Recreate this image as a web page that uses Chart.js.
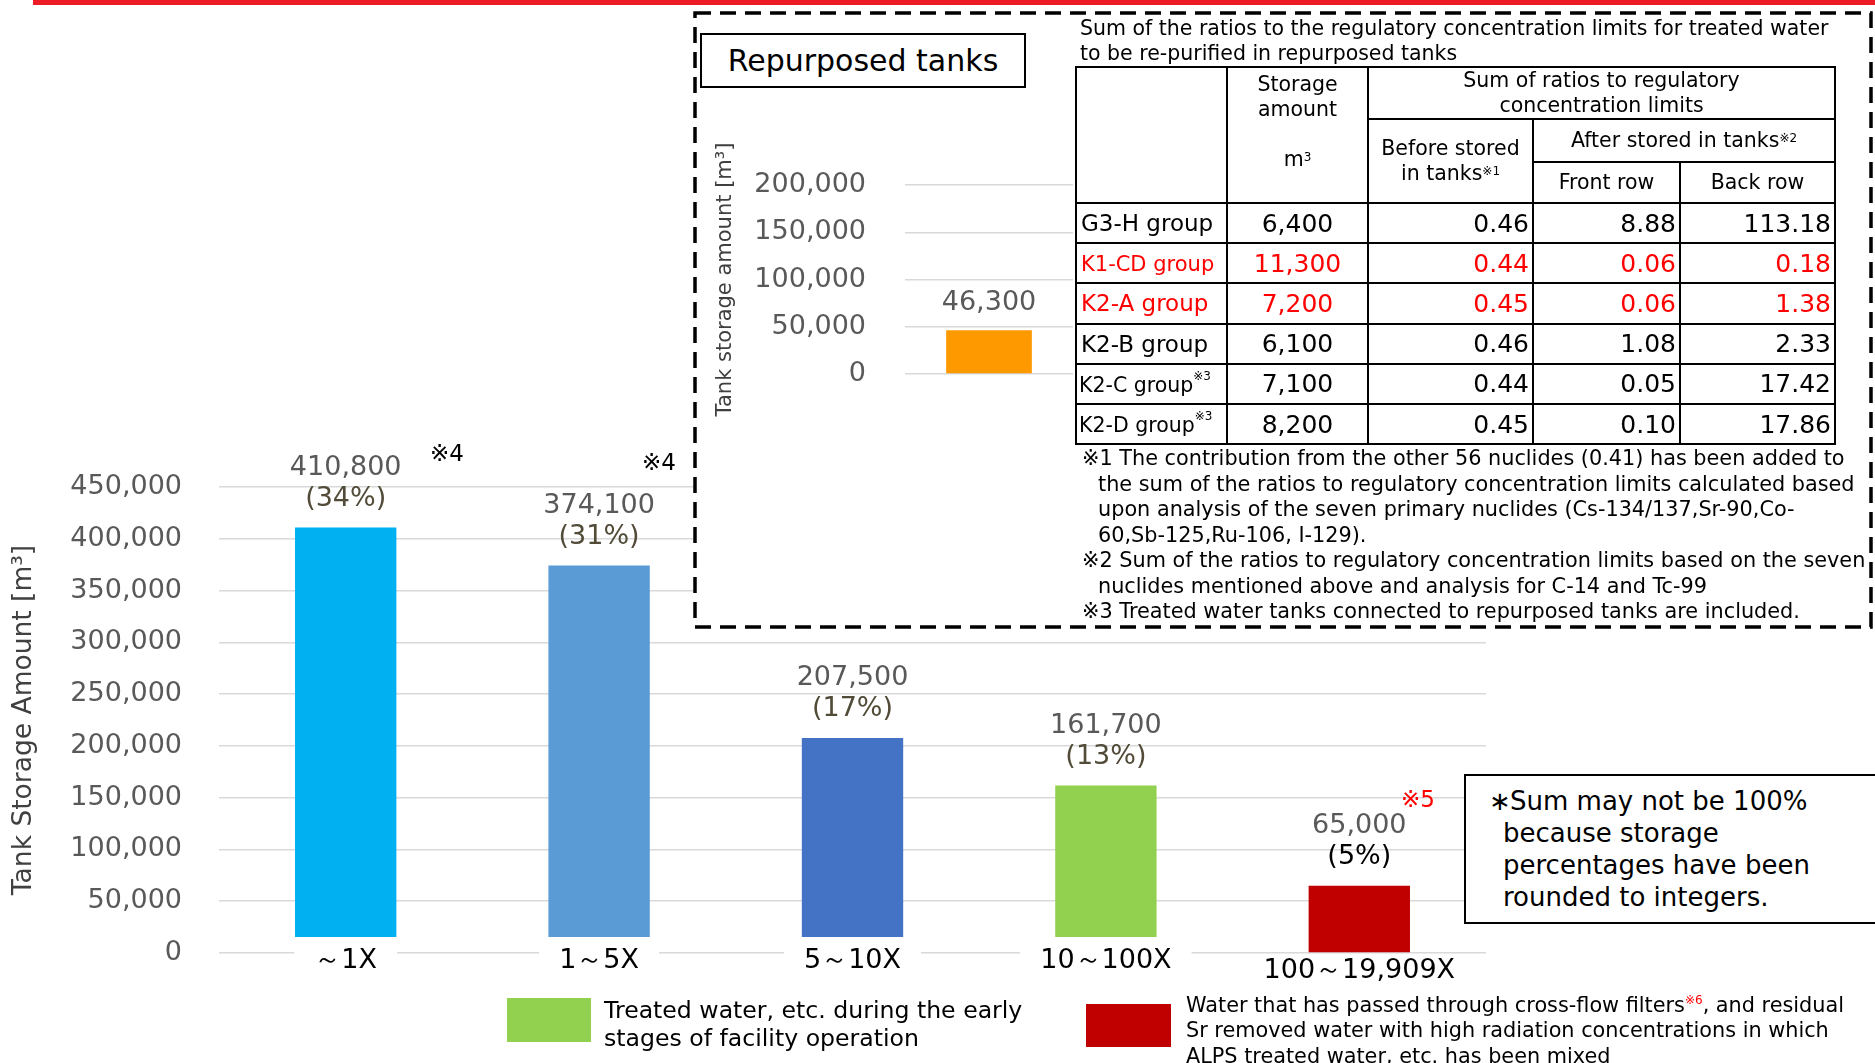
<!DOCTYPE html>
<html><head><meta charset="utf-8">
<script src="https://cdn.jsdelivr.net/npm/chart.js@4.4.1/dist/chart.umd.min.js"></script>
<style>
html,body{margin:0;padding:0;background:#fff;}
body{width:1875px;height:1063px;position:relative;overflow:hidden;font-family:"DejaVu Sans",sans-serif;color:#000;}
canvas{position:absolute;left:0;top:0;}
#main{z-index:1} #boxsvg{z-index:2;position:absolute;left:0;top:0;} #inset{z-index:3}
.t{position:absolute;z-index:4;white-space:nowrap;}
#tbl{position:absolute;left:1075px;top:66px;width:759px;z-index:4;border-collapse:collapse;table-layout:fixed;font-family:"DejaVu Sans",sans-serif;}
#tbl td{border:2.5px solid #000;padding:0;overflow:hidden;white-space:nowrap;}
#tbl .h{font-size:20.5px;text-align:center;line-height:25px;}
#tbl .lab{font-size:23px;text-align:left;padding-left:4px;}
#tbl .num{font-size:25px;text-align:right;padding-right:3px;}
#tbl .st{font-size:25px;text-align:center;}
#tbl sup{font-size:12px;vertical-align:top;position:relative;top:-2px;}
#tbl .red{color:#FF0000;}
.fn div{height:25.5px;line-height:25.5px;}
</style></head>
<body>
<div class="t" style="left:33px;top:0;width:1842px;height:5px;background:#ED1C24;z-index:6"></div>
<canvas id="main" width="1875" height="1063"></canvas>
<svg id="boxsvg" width="1875" height="1063">
  <rect x="695" y="13" width="1176" height="614" fill="#fff" stroke="#000" stroke-width="3.5" stroke-dasharray="16 9"/>
</svg>
<canvas id="inset" width="1875" height="1063"></canvas>
<div class="t" style="left:700px;top:33px;width:322px;height:51px;border:2px solid #000;background:#fff;font-size:30px;line-height:51px;text-align:center;">Repurposed tanks</div>
<div class="t" id="ttitle" style="left:1080px;top:16px;font-size:20.5px;line-height:25px;"></div>
<table id="tbl"></table>
<div class="t fn" id="fnotes" style="left:1082px;top:446px;font-size:20.8px;"></div>
<div class="t" style="left:430px;top:440px;font-size:23px;">※4</div>
<div class="t" style="left:642px;top:449px;font-size:23px;">※4</div>
<div class="t" style="left:1401px;top:786px;font-size:23px;color:#FF0000;">※5</div>
<div class="t" style="left:1464px;top:774px;width:420px;height:146px;border:2px solid #000;background:#fff;font-size:26px;line-height:32px;">
  <div style="padding:9px 0 0 37px;"><span style="display:inline-block;width:21px;margin-left:-14px">∗</span>Sum may not be 100%<br>because storage<br>percentages have been<br>rounded to integers.</div>
</div>
<div class="t" style="left:507px;top:998px;width:84px;height:44px;background:#92D050;"></div>
<div class="t" id="leg1" style="left:604px;top:996px;font-size:23.6px;line-height:28px;"></div>
<div class="t" style="left:1086px;top:1004px;width:85px;height:43px;background:#C00000;"></div>
<div class="t" id="leg2" style="left:1186px;top:988px;font-size:20.8px;line-height:25.5px;"></div>
<script>
// ---------- data ----------
const categories = ['～1X', '1～5X', '5～10X', '10～100X', '100～19,909X'];
const storageAmounts = [410800, 374100, 207500, 161700, 65000];
const storageShares = ['(34%)', '(31%)', '(17%)', '(13%)', '(5%)'];
const yMax = 450000, yStep = 50000;

const insetCategories = ['Repurposed tanks'];
const insetAmounts = [46300];
const insetMax = 200000, insetStep = 50000;

const groupNames = ['G3-H group', 'K1-CD group', 'K2-A group', 'K2-B group', 'K2-C group', 'K2-D group'];
const groupNotes = ['', '', '', '', '※3', '※3'];
const groupStorage = [6400, 11300, 7200, 6100, 7100, 8200];
const beforeStored = [0.46, 0.44, 0.45, 0.46, 0.44, 0.45];
const afterFront = [8.88, 0.06, 0.06, 1.08, 0.05, 0.10];
const afterBack = [113.18, 0.18, 1.38, 2.33, 17.42, 17.86];
const highlightedGroups = ['K1-CD group', 'K2-A group'];

const tableTitle = ['Sum of the ratios to the regulatory concentration limits for treated water', 'to be re-purified in repurposed tanks'];
const footnotes = [
  ['※1 The contribution from the other 56 nuclides (0.41) has been added to', 0],
  ['the sum of the ratios to regulatory concentration limits calculated based', 1],
  ['upon analysis of the seven primary nuclides (Cs-134/137,Sr-90,Co-', 1],
  ['60,Sb-125,Ru-106, I-129).', 1],
  ['※2 Sum of the ratios to regulatory concentration limits based on the seven', 0],
  ['nuclides mentioned above and analysis for C-14 and Tc-99', 1],
  ['※3 Treated water tanks connected to repurposed tanks are included.', 0]
];
const legendGreen = ['Treated water, etc. during the early', 'stages of facility operation'];
const legendRed = ['Water that has passed through cross-flow filters<sup style="color:#FF0000;font-size:12px">※6</sup>, and residual', 'Sr removed water with high radiation concentrations in which', 'ALPS treated water, etc. has been mixed'];

// ---------- styles ----------
const BAR_COLORS = ['#00B0F0', '#5B9BD5', '#4472C4', '#92D050', '#C00000'];
const INSET_COLOR = '#FF9900';
const fmt = v => Number(v).toLocaleString('en-US');

// ---------- html texts ----------
document.getElementById('ttitle').innerHTML = tableTitle.join('<br>');
document.getElementById('fnotes').innerHTML = footnotes.map(f => `<div style="padding-left:${f[1] ? 16 : 0}px">${f[0]}</div>`).join('');
document.getElementById('leg1').innerHTML = legendGreen.join('<br>');
document.getElementById('leg2').innerHTML = legendRed.join('<br>');

let th = `<colgroup><col style="width:151px"><col style="width:141px"><col style="width:165px"><col style="width:147px"><col style="width:155px"></colgroup>`;
th += `<tr style="height:51px"><td rowspan="3"></td><td rowspan="3" class="h" style="vertical-align:top;padding-top:4px">Storage<br>amount<br><br>m<sup>3</sup></td><td colspan="3" class="h">Sum of ratios to regulatory<br>concentration limits</td></tr>`;
th += `<tr style="height:43px"><td rowspan="2" class="h">Before stored<br>in tanks<sup>※1</sup></td><td colspan="2" class="h">After stored in tanks<sup>※2</sup></td></tr>`;
th += `<tr style="height:41px"><td class="h">Front row</td><td class="h">Back row</td></tr>`;
groupNames.forEach((g, i) => {
  const red = highlightedGroups.includes(g) ? ' red' : '';
  const note = groupNotes[i] ? `<sup>${groupNotes[i]}</sup>` : '';
  let lab = g;
  if (groupNotes[i]) lab = `<span style="font-size:20.5px;margin-left:-2px">${g}</span>`;
  else if (g.length > 10) lab = `<span style="font-size:21px">${g}</span>`;
  th += `<tr style="height:40.2px"><td class="lab${red}">${lab}${note}</td><td class="st${red}">${fmt(groupStorage[i])}</td>` +
        `<td class="num${red}">${beforeStored[i].toFixed(2)}</td><td class="num${red}">${afterFront[i].toFixed(2)}</td><td class="num${red}">${afterBack[i].toFixed(2)}</td></tr>`;
});
document.getElementById('tbl').innerHTML = th;

// ---------- plugins ----------
const mainLabels = {
  id: 'mainLabels',
  afterDatasetsDraw(chart) {
    const ctx = chart.ctx, meta = chart.getDatasetMeta(0);
    const zero = chart.scales.y.getPixelForValue(0);
    ctx.save();
    ctx.textAlign = 'center'; ctx.textBaseline = 'middle';
    ctx.font = '27px "DejaVu Sans"';
    meta.data.forEach((bar, i) => {
      ctx.fillStyle = '#595959';
      ctx.fillText(fmt(storageAmounts[i]), bar.x, bar.y - 60);
      ctx.fillStyle = i === meta.data.length - 1 ? '#000000' : '#514B38';
      ctx.fillText(storageShares[i], bar.x, bar.y - 29);
      const last = i === meta.data.length - 1;
      const cy = zero + (last ? 18 : 8);
      const tw = ctx.measureText(categories[i]).width;
      const bw = Math.max(bar.width, tw + 40);
      if (!last) { ctx.fillStyle = '#ffffff'; ctx.fillRect(bar.x - bw / 2, zero - 16, bw, 44); }
      ctx.fillStyle = '#000000';
      ctx.fillText(categories[i], bar.x, cy);
    });
    ctx.restore();
  }
};
const insetLabels = {
  id: 'insetLabels',
  afterDatasetsDraw(chart) {
    const ctx = chart.ctx, meta = chart.getDatasetMeta(0);
    ctx.save();
    ctx.textAlign = 'center'; ctx.textBaseline = 'middle';
    ctx.font = '27px "DejaVu Sans"'; ctx.fillStyle = '#595959';
    meta.data.forEach((bar, i) => ctx.fillText(fmt(insetAmounts[i]), bar.x, bar.y - 27));
    ctx.restore();
  }
};

// ---------- charts ----------
new Chart(document.getElementById('main'), {
  type: 'bar',
  data: { labels: categories, datasets: [{ data: storageAmounts, backgroundColor: BAR_COLORS, borderWidth: 0, barPercentage: 0.4, categoryPercentage: 1 }] },
  options: {
    responsive: false, animation: false, events: [],
    layout: { padding: { top: 487, right: 389, bottom: 110, left: 0 } },
    plugins: { legend: { display: false }, tooltip: { enabled: false } },
    scales: {
      x: { display: false },
      y: {
        min: 0, max: yMax,
        ticks: { stepSize: yStep, color: '#595959', font: { size: 27, family: 'DejaVu Sans' }, padding: 37, callback: v => fmt(v) },
        grid: { color: '#d9d9d9', lineWidth: 1.5, drawTicks: false },
        border: { display: false },
        title: { display: true, text: 'Tank Storage Amount [m³]', color: '#404040', font: { size: 26.5, family: 'DejaVu Sans' }, padding: { top: 8, bottom: 0 } },
        afterFit(s) { s.width = 219; }
      }
    }
  },
  plugins: [mainLabels]
});

new Chart(document.getElementById('inset'), {
  type: 'bar',
  data: { labels: insetCategories, datasets: [{ data: insetAmounts, backgroundColor: INSET_COLOR, borderWidth: 0, barPercentage: 0.51, categoryPercentage: 1 }] },
  options: {
    responsive: false, animation: false, events: [],
    layout: { padding: { top: 185, right: 802, bottom: 689, left: 0 } },
    plugins: { legend: { display: false }, tooltip: { enabled: false } },
    scales: {
      x: { display: false },
      y: {
        min: 0, max: insetMax,
        ticks: { stepSize: insetStep, color: '#595959', font: { size: 27, family: 'DejaVu Sans' }, padding: 39, callback: v => fmt(v) },
        grid: { color: '#d9d9d9', lineWidth: 1.5, drawTicks: false },
        border: { display: false },
        title: { display: true, text: 'Tank storage amount [m³]', color: '#404040', font: { size: 21, family: 'DejaVu Sans' }, padding: { top: 713, bottom: 0 } },
        afterFit(s) { s.width = 905; }
      }
    }
  },
  plugins: [insetLabels]
});
</script>
</body></html>
